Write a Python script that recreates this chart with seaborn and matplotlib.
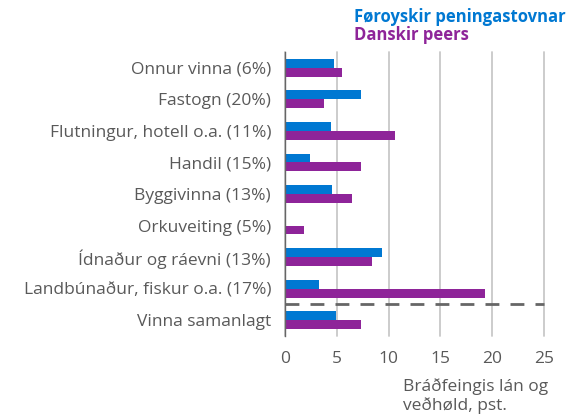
import numpy as np
import pandas as pd
import matplotlib
matplotlib.use("Agg")
import matplotlib.pyplot as plt
import seaborn as sns

categories = [
    "Onnur vinna (6%)",
    "Fastogn (20%)",
    "Flutningur, hotell o.a. (11%)",
    "Handil (15%)",
    "Byggivinna (13%)",
    "Orkuveiting (5%)",
    "Ídnaður og ráevni (13%)",
    "Landbúnaður, fiskur o.a. (17%)",
    "Vinna samanlagt",
]
faroese = [4.7, 7.3, 4.4, 2.4, 4.5, 0.0, 9.4, 3.3, 4.95]
danish = [5.5, 3.8, 10.6, 7.3, 6.5, 1.8, 8.4, 19.3, 7.3]
series = ["Føroyskir peningastovnar", "Danskir peers"]
colors = ["#0078d2", "#8e2499"]
xticks = [0, 5, 10, 15, 20, 25]

df = pd.DataFrame({
    "category": categories * 2,
    "value": faroese + danish,
    "series": [series[0]] * len(categories) + [series[1]] * len(categories),
})

sns.set_style("white")
plt.rcParams["font.family"] = ["Open Sans", "DejaVu Sans"]
text_col = "#595959"
fs = 12.5

fig = plt.figure(figsize=(5.76, 4.16), dpi=100)
ax = fig.add_axes([0.4948, 0.1923, 0.4497, 0.6827])

sns.barplot(data=df, x="value", y="category", hue="series", order=categories,
            hue_order=series, palette=colors, saturation=1, orient="h", width=0.56,
            linewidth=0, legend=False, ax=ax, zorder=3)

ax.set_xlim(0, 25)
ax.set_ylim(8.5, -0.5)
ax.set_xticks(xticks)
ax.set_xticklabels([str(t) for t in xticks])
ax.grid(axis="x", color="#c8c8c8", linewidth=1.3, zorder=0)
for g in ax.get_xgridlines():
    g.set_clip_on(False)

ax.set_yticks(range(len(categories)))
ax.set_yticks(np.arange(-0.5, len(categories)), minor=True)
ax.tick_params(axis="y", which="major", length=0, labelsize=fs, labelcolor=text_col, pad=10)
ax.tick_params(axis="y", which="minor", length=5, direction="in", color="#666666", width=1)
ax.tick_params(axis="x", length=0, labelsize=fs, labelcolor=text_col, pad=11)

for s in ["top", "right", "bottom"]:
    ax.spines[s].set_visible(False)
ax.spines["left"].set_color("#666666")
ax.spines["left"].set_linewidth(1)
ax.spines["left"].set_zorder(5)

ax.axhline(7.5, color="#666666", linewidth=2, dashes=(5, 4), zorder=4, clip_on=False)

ax.set_xlabel("")
ax.set_ylabel("")

fig.text(354 / 576, 1 - 17 / 416, series[0], color=colors[0], fontsize=12,
         fontweight="bold", va="center", ha="left")
fig.text(354 / 576, 1 - 35 / 416, series[1], color=colors[1], fontsize=12,
         fontweight="bold", va="center", ha="left")
fig.text(403 / 576, 1 - 396 / 416, "Bráðfeingis lán og\nveðhøld, pst.", color=text_col,
         fontsize=fs, va="center", ha="left", linespacing=1.15)

fig.savefig("out.png", dpi=100)
